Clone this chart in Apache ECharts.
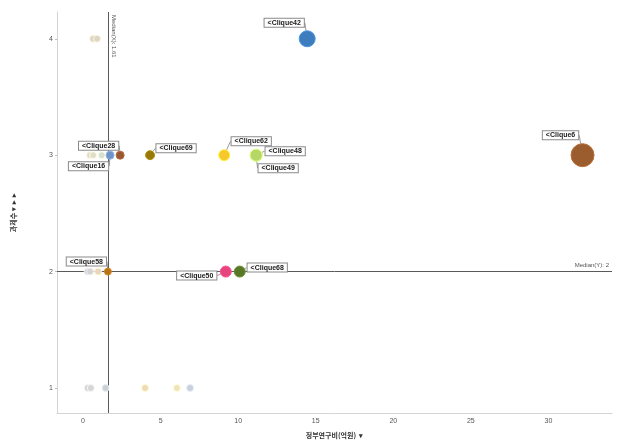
<!DOCTYPE html>
<html><head><meta charset="utf-8">
<script src="https://cdn.jsdelivr.net/npm/echarts@6/dist/echarts.min.js"></script>
<style>html,body{margin:0;padding:0;background:#fff}#c{width:633px;height:444px}</style>
</head><body><div id="c"></div>
<script>
// Highlighted cliques
const names   = ['Clique42','Clique6','Clique62','Clique48','Clique49','Clique69','Clique28','Clique16','Clique58','Clique50','Clique68'];
const xVals   = [14.45, 32.2, 9.1, 11.16, 11.16, 4.32, 2.39, 1.74, 1.6, 9.2, 10.1];
const yVals   = [4, 3, 3, 3, 3, 3, 3, 3, 2, 2, 2];
const weights = [16, 23, 11, 12, 12, 9, 8, 8, 7, 11, 11];
const colors  = ['#3e7dbd','#9b5d2e','#f6c82c','#b6d667','#b6d667','#977809','#985733','#6f93c4','#b5721a','#e6447d','#587828'];
// Faded (non-highlighted) cliques
const fadedX = [0.65, 0.9, 0.45, 0.65, 1.2, 0.3, 0.45, 0.97, 0.3, 0.5, 1.45, 4.0, 6.05, 6.9];
const fadedY = [4, 4, 3, 3, 3, 2, 2, 2, 1, 1, 1, 1, 1, 1];
const fadedC = ['#dcd6c4','#dcd6c4','#e4d9c6','#dedecb','#d9dfcc','#d4d4d4','#d4d4d4','#e9d6bd','#d6d6d6','#d6d6d6','#ccd0d6','#eedab6','#eee3ba','#c9d0da'];
const xTicks = [0, 5, 10, 15, 20, 25, 30];
const yTicks = [1, 2, 3, 4];
const medianX = 1.61, medianY = 2;
// label offsets (box center relative to point)
const labelOffsets = [[-23,-16],[-22,-20],[27,-14],[29,-4],[22,13],[26,-7],[-21.5,-9.5],[-21.5,11],[-21.5,-10],[-29,4],[27.5,-4]];

const X_MIN = -1.68, X_MAX = 34.1, Y_MIN = 0.785, Y_MAX = 4.23;

const chart = echarts.init(document.getElementById('c'));
const mainData = names.map((n,i)=>({name:n, value:[xVals[i], yVals[i], weights[i]], itemStyle:{color:colors[i], borderColor:echarts.color.lift(colors[i], -0.2)}}));
const fadedData = fadedX.map((x,i)=>({value:[x, fadedY[i]], itemStyle:{color:fadedC[i], borderColor:echarts.color.lift(fadedC[i], -0.15)}}));

chart.setOption({
  animation:false,
  grid:{left:57, right:21, top:12, bottom:31},
  xAxis:{
    type:'value', min:X_MIN, max:X_MAX,
    splitLine:{show:false},
    axisLine:{show:true, onZero:false, lineStyle:{color:'#d4d4d4'}},
    axisTick:{show:false, customValues:xTicks},
    axisLabel:{customValues:xTicks, fontSize:7, color:'#555', margin:5, fontFamily:'Liberation Sans'},
    name:'정부연구비(억원)  ▾', nameLocation:'middle', nameGap:19,
    nameTextStyle:{fontSize:7, fontWeight:'bold', color:'#333', fontFamily:'Noto Sans CJK KR'}
  },
  yAxis:{
    type:'value', min:Y_MIN, max:Y_MAX,
    splitLine:{show:false},
    axisLine:{show:true, onZero:false, lineStyle:{color:'#d4d4d4'}},
    axisTick:{show:true, length:2, customValues:yTicks, lineStyle:{color:'#bbb'}},
    axisLabel:{customValues:yTicks, fontSize:7, color:'#555', margin:4, fontFamily:'Liberation Sans'},
    name:'과제수 ▾  ▸  ▸', nameLocation:'middle', nameGap:40, nameRotate:90,
    nameTextStyle:{fontSize:7, fontWeight:'bold', color:'#333', fontFamily:'Noto Sans CJK KR'}
  },
  series:[
    {
      type:'scatter', z:2, data:fadedData, symbolSize:7,
      itemStyle:{opacity:1, borderWidth:1},
      markLine:{
        silent:true, symbol:'none', z:1,
        lineStyle:{color:'#5a5a5a', width:1, type:'solid'},
        label:{fontSize:6, color:'#555', fontFamily:'Liberation Sans'},
        data:[
          [{coord:[medianX, Y_MAX], label:{position:'insideStartTop', formatter:'Median(X): '+medianX, distance:3}},
           {coord:[medianX, Y_MIN]}],
          [{coord:[X_MIN, medianY], label:{position:'insideEndTop', formatter:'Median(Y): '+medianY, distance:3}},
           {coord:[X_MAX, medianY]}]
        ]
      }
    },
    {
      type:'scatter', z:3, data:mainData,
      symbolSize:(v)=>v[2],
      itemStyle:{opacity:1, borderWidth:1},
      label:{
        show:true, position:'inside', formatter:(p)=>'<'+p.name,
        fontSize:7, fontWeight:'bold', color:'#1a1a1a', fontFamily:'Liberation Sans',
        backgroundColor:'#fff', borderColor:'#8a8a8a', borderWidth:1, padding:[1,3,0,3]
      },
      labelLine:{show:true, lineStyle:{color:'#999', width:1}},
      labelLayout:(p)=>({dx:labelOffsets[p.dataIndex][0], dy:labelOffsets[p.dataIndex][1]})
    }
  ]
});
</script></body></html>
